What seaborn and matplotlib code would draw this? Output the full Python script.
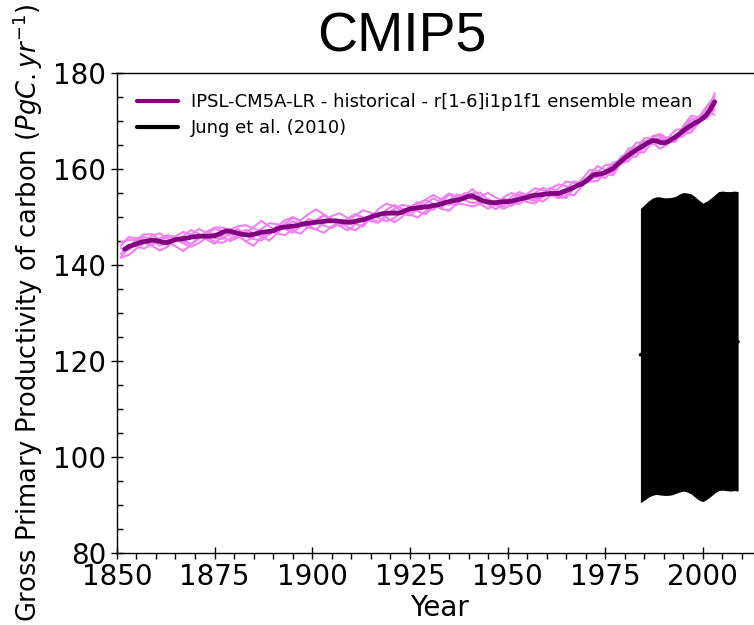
import numpy as np
import pandas as pd
import matplotlib
matplotlib.use("Agg")
import matplotlib.pyplot as plt
from matplotlib.lines import Line2D
from matplotlib.ticker import MultipleLocator
import seaborn as sns

# ---------------- data ----------------
# IPSL-CM5A-LR historical ensemble mean GPP (PgC/yr), annual
mean_years = list(range(1852, 2004))
ensemble_mean = [
    143.3, 143.8, 144.1, 144.4, 144.7, 144.9, 145.0, 145.2, 145.1, 144.9,
    144.7, 144.7, 145.0, 145.3, 145.4, 145.5, 145.6, 145.8, 145.9, 146.0,
    146.0, 146.0, 146.0, 146.1, 146.4, 146.8, 147.1, 147.0, 146.8, 146.6,
    146.4, 146.3, 146.25, 146.4, 146.6, 146.8, 146.9, 147.0, 147.1, 147.5,
    147.8, 147.9, 148.0, 148.1, 148.2, 148.4, 148.6, 148.7, 148.8, 148.9,
    149.0, 149.1, 149.2, 149.2, 149.2, 149.1, 149.0, 148.9, 148.9, 149.1,
    149.3, 149.4, 149.7, 150.0, 150.3, 150.5, 150.7, 150.8, 150.8, 150.8,
    150.8, 151.0, 151.4, 151.7, 151.8, 151.9, 152.0, 152.1, 152.2, 152.4,
    152.5, 152.7, 153.0, 153.2, 153.4, 153.5, 153.7, 154.0, 154.3, 154.4,
    154.0, 153.6, 153.3, 153.1, 153.0, 153.0, 153.1, 153.2, 153.2, 153.3,
    153.5, 153.7, 153.9, 154.1, 154.4, 154.5, 154.6, 154.7, 154.8, 154.9,
    154.9, 154.9, 155.2, 155.5, 155.8, 156.2, 156.6, 156.9, 157.4, 158.1,
    158.8, 158.9, 159.0, 159.3, 159.7, 160.1, 160.9, 161.6, 162.3, 162.9,
    163.5, 164.0, 164.5, 165.0, 165.5, 165.9, 165.9, 165.6, 165.4, 165.7,
    166.2, 166.7, 167.3, 168.0, 168.6, 169.1, 169.6, 170.0, 170.6, 171.4,
    172.6, 174.0,
]

# individual realisations r1..r6 (every second year)
member_years = list(range(1851, 2004, 2))
r1 = [
    144.7, 145.2, 145.3, 146.4, 146.4, 145.2, 144.2, 146.0, 146.9, 146.3,
    145.7, 146.9, 147.8, 147.8, 147.3, 148.1, 148.3, 147.6, 147.0, 146.3,
    148.0, 149.3, 150.0, 149.1, 147.8, 147.4, 148.8, 150.2, 150.8, 149.8,
    148.6, 148.0, 149.8, 151.7, 152.8, 152.2, 151.2, 151.0, 152.2, 153.6,
    154.6, 153.7, 152.9, 152.5, 154.5, 155.8, 154.3, 152.6, 151.6, 152.9,
    154.2, 155.2, 154.6, 153.8, 153.2, 154.4, 155.9, 157.4, 157.1, 156.6,
    158.8, 160.6, 159.8, 159.2, 161.9, 164.3, 164.5, 164.3, 166.8, 167.3,
    166.4, 166.2, 169.0, 171.1, 170.7, 171.1, 175.8,
]
r2 = [
    141.5, 142.1, 143.4, 144.6, 144.0, 143.0, 143.8, 145.3, 144.5, 143.8,
    144.6, 145.7, 144.9, 144.6, 145.5, 146.1, 144.9, 144.0, 145.8, 147.2,
    146.6, 146.2, 147.4, 148.7, 148.2, 147.4, 146.7, 148.0, 149.1, 147.9,
    147.2, 148.5, 150.3, 149.8, 149.1, 149.8, 151.0, 150.5, 149.9, 151.2,
    152.6, 151.7, 151.3, 152.8, 152.6, 152.2, 152.7, 153.4, 152.5, 151.7,
    152.6, 153.9, 153.1, 152.8, 154.2, 155.2, 154.0, 154.0, 155.9, 157.4,
    157.4, 157.5, 159.0, 160.8, 161.1, 161.7, 163.8, 165.9, 165.6, 164.2,
    165.2, 167.2, 167.3, 167.6, 169.7, 171.9, 171.3,
]
r3 = [
    143.5, 143.1, 144.7, 145.9, 145.2, 144.0, 144.9, 143.9, 142.9, 144.3,
    145.8, 147.0, 146.3, 145.8, 145.0, 145.7, 146.8, 147.9, 149.2, 148.0,
    147.2, 148.6, 149.8, 149.3, 150.6, 151.6, 150.5, 149.4, 148.1, 148.9,
    150.3, 151.4, 150.9, 150.2, 151.5, 152.5, 151.7, 151.2, 152.8, 153.6,
    152.7, 151.8, 153.4, 154.7, 154.3, 153.7, 154.3, 155.0, 154.0, 153.4,
    152.3, 153.4, 154.8, 156.0, 155.6, 154.7, 153.9, 155.8, 157.4, 157.1,
    157.4, 159.4, 160.8, 161.0, 161.3, 161.9, 164.3, 166.4, 166.4, 165.1,
    166.4, 168.2, 168.3, 168.2, 170.5, 172.8, 174.9,
]
r4 = [
    141.6, 143.5, 145.3, 144.7, 144.2, 145.1, 145.9, 145.6, 144.8, 146.3,
    147.5, 146.7, 145.6, 145.4, 146.7, 147.5, 146.1, 145.4, 145.1, 146.5,
    148.2, 147.6, 146.7, 148.1, 149.6, 149.1, 148.2, 147.7, 148.6, 149.6,
    150.6, 149.9, 149.3, 150.8, 149.9, 148.9, 150.0, 152.0, 153.1, 152.3,
    151.5, 153.0, 154.6, 154.0, 153.5, 152.9, 153.1, 153.8, 152.8, 152.2,
    153.5, 154.7, 154.1, 153.6, 155.0, 156.1, 155.1, 154.8, 154.5, 156.4,
    158.6, 158.6, 158.1, 159.9, 162.6, 163.2, 163.3, 163.5, 165.6, 166.5,
    165.5, 165.7, 168.3, 170.5, 170.3, 170.7, 172.4,
]
r5 = [
    144.0, 145.8, 145.6, 144.9, 146.1, 146.6, 145.4, 145.0, 146.0, 147.3,
    146.5, 145.3, 144.4, 146.1, 147.5, 146.3, 144.9, 145.9, 147.5, 148.7,
    148.5, 147.9, 147.1, 146.5, 148.0, 149.4, 150.5, 149.5, 148.2, 147.2,
    148.4, 149.9, 149.5, 149.0, 150.5, 151.7, 152.5, 152.2, 151.2, 150.6,
    152.1, 153.7, 154.9, 154.2, 153.7, 154.9, 155.1, 153.6, 152.5, 154.1,
    155.0, 154.4, 153.8, 153.3, 154.5, 155.9, 156.8, 156.4, 156.0, 157.8,
    159.8, 159.6, 159.0, 158.7, 161.3, 163.6, 165.5, 165.5, 165.2, 165.4,
    166.6, 166.4, 166.8, 168.9, 170.9, 173.1, 175.2,
]
r6 = [
    142.3, 144.3, 143.9, 143.4, 144.5, 145.6, 146.2, 145.8, 145.0, 144.4,
    145.5, 146.5, 147.5, 147.1, 146.1, 146.6, 147.3, 146.6, 145.9, 145.1,
    146.6, 148.1, 149.1, 148.6, 147.8, 149.2, 150.3, 149.4, 148.6, 149.4,
    150.5, 149.7, 149.1, 148.8, 150.3, 151.3, 150.7, 150.3, 151.7, 152.8,
    153.9, 153.0, 152.5, 153.7, 155.0, 154.7, 152.7, 151.7, 152.7, 153.9,
    153.1, 152.7, 153.8, 155.0, 156.1, 155.4, 154.4, 154.3, 156.0, 157.8,
    158.3, 158.2, 159.6, 161.3, 161.9, 162.4, 162.6, 164.7, 166.6, 167.0,
    166.0, 166.0, 168.2, 170.1, 170.2, 170.5, 173.2,
]
members = {"r1i1p1f1": r1, "r2i1p1f1": r2, "r3i1p1f1": r3,
           "r4i1p1f1": r4, "r5i1p1f1": r5, "r6i1p1f1": r6}

# Jung et al. (2010) observation-based estimate with its uncertainty range
jung_years = list(range(1984, 2010))
jung_mean = [
    121.3, 121.6, 121.9, 122.1, 122.3, 122.2, 122.1, 122.3, 122.5, 122.7,
    123.0, 123.2, 123.1, 122.9, 122.6, 122.3, 122.0, 122.4, 122.8, 123.3,
    123.8, 124.0, 123.9, 123.8, 124.0, 124.0,
]
jung_upper = [
    151.8, 152.5, 153.3, 153.9, 154.2, 154.2, 154.0, 154.0, 154.1, 154.3,
    154.8, 155.1, 155.0, 154.8, 154.2, 153.5, 152.9, 153.3, 153.9, 154.6,
    155.3, 155.4, 155.3, 155.3, 155.4, 155.3,
]
jung_lower = [
    90.5, 91.0, 91.6, 92.0, 92.2, 92.1, 92.0, 92.0, 92.1, 92.4,
    92.7, 92.9, 92.7, 92.3, 91.6, 91.0, 90.7, 91.2, 91.8, 92.5,
    93.0, 93.1, 93.0, 92.9, 93.0, 92.9,
]

model_label = "IPSL-CM5A-LR - historical - r[1-6]i1p1f1 ensemble mean"
obs_label = "Jung et al. (2010)"

# ---------------- tables ----------------
members_df = pd.DataFrame(
    [(y, name, v) for name, vals in members.items() for y, v in zip(member_years, vals)],
    columns=["year", "member", "gpp"],
)
mean_df = pd.DataFrame({"year": mean_years, "gpp": ensemble_mean})
jung_df = pd.DataFrame({"year": jung_years, "gpp": jung_mean,
                        "lo": jung_lower, "hi": jung_upper})

# ---------------- figure ----------------
sns.set_style("ticks")
plt.rcParams["font.family"] = ["DejaVu Sans"]
plt.rcParams["mathtext.fontset"] = "dejavusans"
plt.rcParams["text.color"] = "black"
plt.rcParams["axes.labelcolor"] = "black"
plt.rcParams["xtick.color"] = "black"
plt.rcParams["ytick.color"] = "black"

fig = plt.figure(figsize=(7.54, 6.25), dpi=100)
ax = fig.add_axes([0.155, 0.1152, 0.855, 0.768])

sns.lineplot(data=members_df, x="year", y="gpp", units="member", estimator=None,
             color="violet", linewidth=1.5, ax=ax, legend=False)
sns.lineplot(data=mean_df, x="year", y="gpp", color="purple", linewidth=3.4,
             ax=ax, legend=False)

ax.fill_between(jung_df["year"], jung_df["lo"], jung_df["hi"],
                color="black", linewidth=0, zorder=3)
sns.lineplot(data=jung_df, x="year", y="gpp", color="black", linewidth=2.5,
             ax=ax, legend=False, zorder=4)

ax.set_xlim(1850, 2015)
ax.set_ylim(80, 180)
ax.xaxis.set_major_locator(MultipleLocator(25))
ax.xaxis.set_minor_locator(MultipleLocator(5))
ax.yaxis.set_major_locator(MultipleLocator(20))
ax.yaxis.set_minor_locator(MultipleLocator(5))
ax.tick_params(which="major", direction="inout", length=8, width=1,
               labelsize=20, colors="black")
ax.tick_params(axis="x", which="minor", direction="out", length=4, width=1)
ax.tick_params(axis="y", which="minor", direction="in", length=4, width=1)
for s in ax.spines.values():
    s.set_linewidth(1.0)
    s.set_color("black")

ax.set_xlabel("Year", fontsize=20, labelpad=2)
ax.set_ylabel(r"Gross Primary Productivity of carbon ($PgC.yr^{-1}$)",
              fontsize=18.5, labelpad=6)

fig.text(0.533, 0.9168, "CMIP5", fontsize=40, family="Liberation Sans",
         ha="center", va="baseline")

handles = [Line2D([], [], color="purple", linewidth=3),
           Line2D([], [], color="black", linewidth=3)]
ax.legend(handles, [model_label, obs_label], loc="upper left", frameon=False,
          fontsize=13, handlelength=2.3, handletextpad=0.7,
          labelspacing=0.45, borderaxespad=0.7)

fig.savefig("out.png", dpi=100)
